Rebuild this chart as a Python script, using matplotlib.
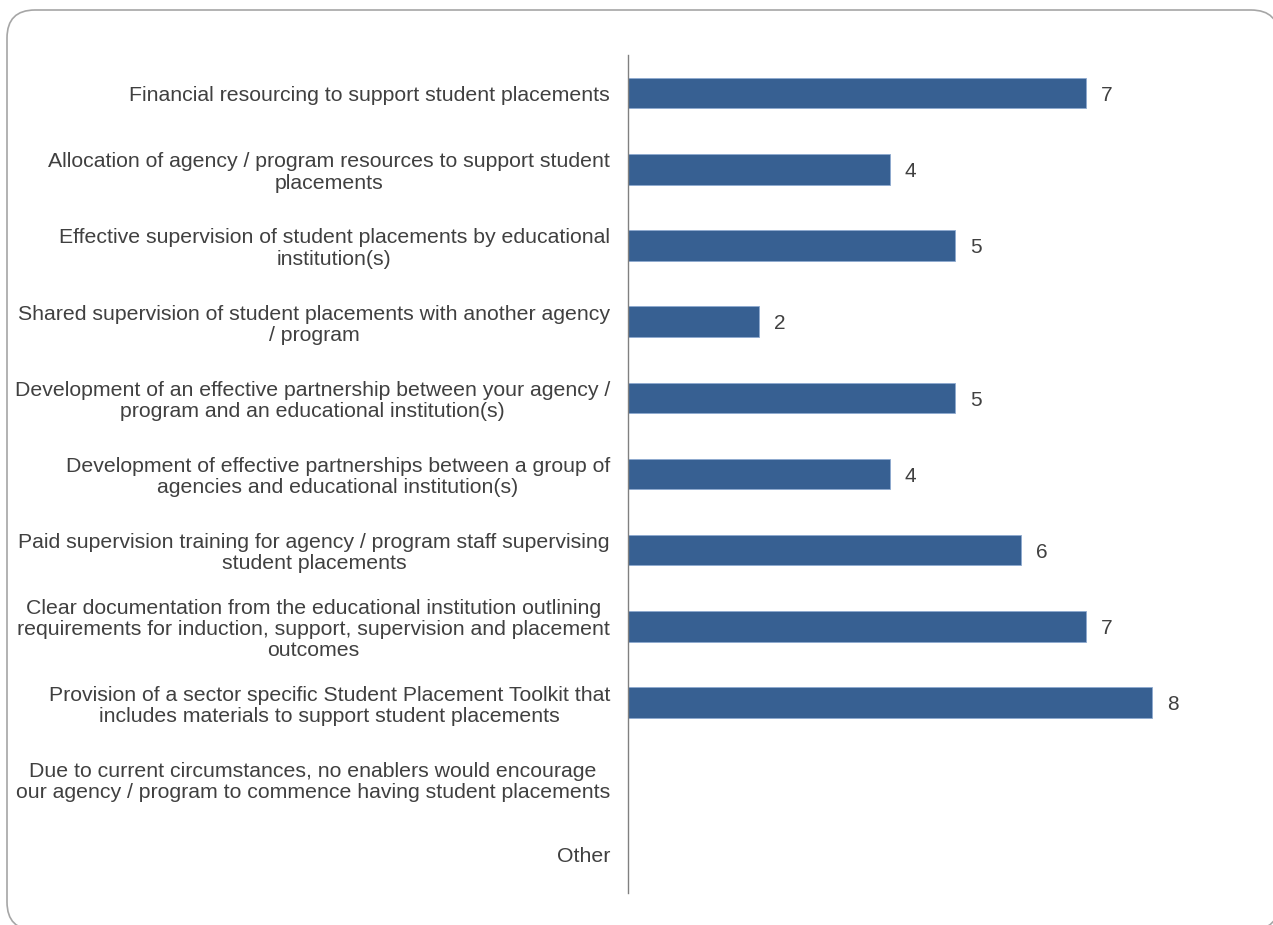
import matplotlib.pyplot as plt
from matplotlib.patches import FancyBboxPatch

plt.rcParams['font.family'] = ['Liberation Sans', 'DejaVu Sans']

# survey enablers and number of responses
enablers = [
    'Financial resourcing to support student placements',
    'Allocation of agency / program resources to support student\nplacements',
    'Effective supervision of student placements by educational\ninstitution(s)',
    'Shared supervision of student placements with another agency\n/ program',
    'Development of an effective partnership between your agency /\nprogram and an educational institution(s)',
    'Development of effective partnerships between a group of\nagencies and educational institution(s)',
    'Paid supervision training for agency / program staff supervising\nstudent placements',
    'Clear documentation from the educational institution outlining\nrequirements for induction, support, supervision and placement\noutcomes',
    'Provision of a sector specific Student Placement Toolkit that\nincludes materials to support student placements',
    'Due to current circumstances, no enablers would encourage\nour agency / program to commence having student placements',
    'Other',
]
counts = [7, 4, 5, 2, 5, 4, 6, 7, 8, 0, 0]

bar_colour = '#376092'
text_colour = '#404040'

fig = plt.figure(figsize=(12.73, 9.25), dpi=100)

# rounded frame around the whole chart (inches); white fill so agg
# doesn't clip the curved corners that run past the canvas
frame = FancyBboxPatch((0.07, -0.05), 12.72, 9.20,
                       boxstyle='round,pad=0,rounding_size=0.28',
                       transform=fig.dpi_scale_trans, facecolor='white',
                       edgecolor='#a6a6a6', linewidth=1.2, zorder=-1)
fig.patches.append(frame)

ax = fig.add_axes([628 / 1273, 1 - 893 / 925, 622 / 1273, 838 / 925])
ax.patch.set_visible(False)

pos = list(range(len(enablers)))
bars = ax.barh(pos, counts, height=0.4, color=bar_colour,
               edgecolor='#8eaad0', linewidth=0.6)
for b, v in zip(bars, counts):
    if v > 0:
        ax.text(v + 0.23, b.get_y() + b.get_height() / 2 + 0.03, str(v),
                va='center', ha='left', fontsize=15, color=text_colour)

ax.set_ylim(len(enablers) - 0.5, -0.5)
ax.set_xlim(0, 9.5)
ax.set_yticks(pos)
ax.set_yticklabels(enablers, fontsize=15.3, color=text_colour,
                   multialignment='center', linespacing=1.15)
ax.tick_params(axis='y', length=0, pad=13)
ax.set_xticks([])

for side in ['top', 'right', 'bottom']:
    ax.spines[side].set_visible(False)
ax.spines['left'].set_color('#808080')
ax.spines['left'].set_linewidth(1.0)

fig.savefig('out.png', dpi=100)
